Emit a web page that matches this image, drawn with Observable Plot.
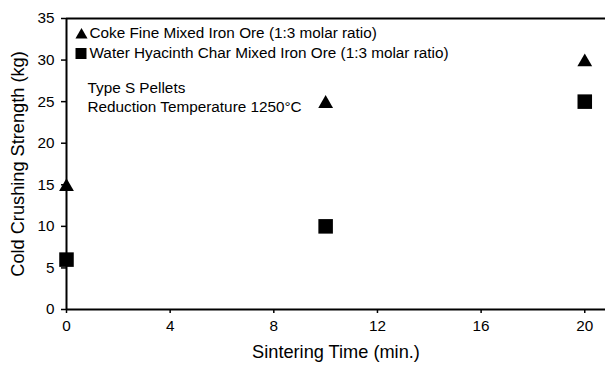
<!DOCTYPE html>
<html><head><meta charset="utf-8">
<script src="https://cdn.jsdelivr.net/npm/d3@7"></script>
<script src="https://cdn.jsdelivr.net/npm/@observablehq/plot@0.6"></script>
<style>body{margin:0;background:#fff;} svg{font-family:"Liberation Sans",Arial,sans-serif;}</style>
</head><body><div id="chart"></div>
<script>
const times = [0, 10, 20];
const cokeStrength = [15, 25, 30];
const hyacinthStrength = [6, 10, 25];
const xTicks = [0, 4, 8, 12, 16, 20];
const yTicks = [0, 5, 10, 15, 20, 25, 30, 35];
const legendLabels = ["Coke Fine Mixed Iron Ore (1:3 molar ratio)", "Water Hyacinth Char Mixed Iron Ore (1:3 molar ratio)"];
const noteLines = ["Type S Pellets", "Reduction Temperature 1250°C"];

const coke = times.map((t, i) => ({t, v: cokeStrength[i]}));
const hyacinth = times.map((t, i) => ({t, v: hyacinthStrength[i]}));

const txt = (s, dx, dy) => Plot.text([s], {text: d => d, frameAnchor: "top-left", dx, dy, textAnchor: "start", lineAnchor: "middle", fontSize: 15.3, fill: "#000"});

const chart = Plot.plot({
  width: 608, height: 365,
  marginLeft: 66, marginRight: 3, marginTop: 18, marginBottom: 56,
  style: {fontFamily: '"Liberation Sans", Arial, sans-serif', fontSize: "15px", color: "#000", background: "#fff"},
  x: {domain: [0, 20.8]},
  y: {domain: [0, 35]},
  marks: [
    Plot.axisX({ticks: xTicks, tickSize: 4, tickPadding: 7, fontSize: 15.3, strokeWidth: 1.5, label: "Sintering Time (min.)", labelAnchor: "center", labelOffset: 48, labelArrow: false}),
    Plot.axisY({ticks: yTicks, tickSize: 5, tickPadding: 7, fontSize: 15.3, strokeWidth: 1.5, label: "Cold Crushing Strength (kg)", labelAnchor: "center", labelOffset: 55, labelArrow: false}),
    Plot.ruleY([0, 35], {stroke: "#000", strokeWidth: 2}),
    Plot.ruleX([0], {stroke: "#000", strokeWidth: 2}),
    Plot.dot(coke, {x: "t", y: "v", symbol: "triangle", r: 5.5, dy: 2, fill: "#000", stroke: "none"}),
    Plot.dot(hyacinth, {x: "t", y: "v", symbol: "square", r: 8.2, fill: "#000", stroke: "none"}),
    Plot.dot([legendLabels[0]], {frameAnchor: "top-left", dx: 15, dy: 16.5, symbol: "triangle", r: 4.5, fill: "#000", stroke: "none"}),
    Plot.dot([legendLabels[1]], {frameAnchor: "top-left", dx: 14.5, dy: 35, symbol: "square", r: 6.2, fill: "#000", stroke: "none"}),
    txt(legendLabels[0], 23, 15),
    txt(legendLabels[1], 23, 34.5),
    txt(noteLines[0], 21, 70),
    txt(noteLines[1], 21, 89)
  ]
});
chart.querySelectorAll('[aria-label="x-axis label"] text, [aria-label="y-axis label"] text').forEach(t => t.style.fontSize = "18.2px");
document.getElementById("chart").appendChild(chart);
</script></body></html>
